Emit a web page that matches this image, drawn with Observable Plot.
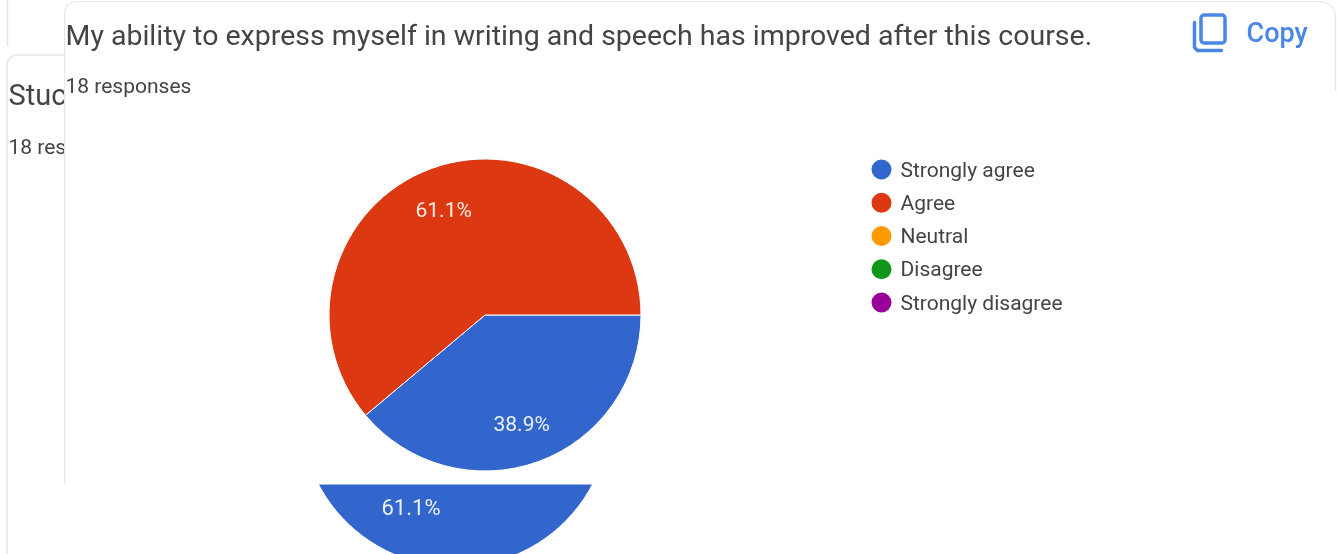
<!DOCTYPE html>
<html><head><meta charset="utf-8">
<script src="https://cdn.jsdelivr.net/npm/d3@7"></script>
<script src="https://cdn.jsdelivr.net/npm/@observablehq/plot@0.6"></script>
<style>html,body{margin:0;padding:0;background:#fff;overflow:hidden}svg{display:block;filter:blur(.75px)}</style>
</head><body><div id="c"></div>
<script>
const categories = ["Strongly agree","Agree","Neutral","Disagree","Strongly disagree"];
const palette = ["#3366cc","#dc3912","#ff9900","#109618","#990099"];
const frontCounts = [7,11,0,0,0];
const frontLabels = ["38.9%","61.1%"];
const backCategories = ["Strongly agree","Agree"];
const backCounts = [11,7];
const backLabel = "61.1%";
const title = "My ability to express myself in writing and speech has improved after this course.";
const responses = "18 responses";
const font = "Roboto, sans-serif", ink = "#444", edge = "#e6e6e6";
const rad = d => d * Math.PI / 180;

function pie(cats, counts, cx, cy, r, startDeg) {
  return (index, {x, y, color}) => {
    const arcs = d3.pie().sort(null).startAngle(rad(startDeg)).endAngle(rad(startDeg + 360))(counts);
    const arc = d3.arc().innerRadius(0).outerRadius(x(r) - x(0));
    const g = d3.create("svg:g").attr("transform", `translate(${x(cx)},${y(cy)})`);
    g.selectAll("path").data(arcs.filter(a => a.value > 0)).join("path")
      .attr("d", arc).attr("fill", (a) => color(cats[a.index])).attr("stroke", "#fff").attr("stroke-width", 1);
    return g.node();
  };
}
const t = (s, px, py, size, o = {}) => Plot.text([s], {x: () => px, y: () => py, text: d => d, fontSize: size, textAnchor: "start", fill: ink, fontFamily: font, ...o});
const box = (x1, y1, x2, y2, o) => Plot.rect([0], {x1: () => x1, x2: () => x2, y1: () => y1, y2: () => y2, ...o});
const seg = (pts, o) => Plot.line(pts, {x: "0", y: "1", curve: "linear", ...o});

const chart = Plot.plot({
  width: 1337, height: 554, margin: 0,
  x: {domain: [0, 1337], range: [0, 1337], axis: null},
  y: {domain: [0, 554], range: [0, 554], axis: null},
  color: {type: "ordinal", domain: categories, range: palette},
  style: {background: "#fff", fontFamily: font},
  marks: [
    // cards behind
    seg([[7, 0], [7, 45]], {stroke: edge, strokeWidth: 1.5}),
    box(7, 55, 400, 600, {fill: "#fff", stroke: edge, strokeWidth: 1.5, rx: 10}),
    t("Stuc", 8, 95, 29),
    t("18 res", 8, 147, 21, {letterSpacing: "1.9px"}),
    pie(backCategories, backCounts, 455.5, 412, 155, 100),
    t(backLabel, 381, 507, 22, {fill: "#fff", opacity: .9, letterSpacing: "1.3px"}),
    // front card
    box(64, 0, 1335, 484.5, {fill: "#fff"}),
    seg([[64, 484], [64, 12], [66, 5], [74, 1], [1322, 1], [1331, 5], [1335, 14], [1335, 90]], {stroke: edge, strokeWidth: 1.2}),
    t(title, 65, 35, 28.5),
    t(responses, 65, 86, 21, {letterSpacing: "1.9px"}),
    // copy icon and label
    box(1201, 15, 1225, 43, {stroke: "#4a86e8", strokeWidth: 3.5, rx: 3, fill: "none"}),
    seg([[1194, 22], [1194, 47], [1197, 50], [1221, 50]], {stroke: "#4a86e8", strokeWidth: 3.5}),
    t("Copy", 1246, 33, 27, {fill: "#4a86e8", fontWeight: 500}),
    // pie and labels
    pie(categories, frontCounts, 485, 315, 156, 90),
    t(frontLabels[0], 493, 424, 21, {fill: "#fff", opacity: .9, letterSpacing: "1px"}),
    t(frontLabels[1], 415, 210, 21, {fill: "#fff", opacity: .9, letterSpacing: "1px"}),
    // legend
    Plot.dot(categories, {x: () => 881, y: (d, i) => 169 + i * 33.25, r: 10, fill: d => d}),
    Plot.text(categories, {x: () => 900, y: (d, i) => 169.5 + i * 33.25, text: d => d, fontSize: 21, textAnchor: "start", fill: ink, fontFamily: font})
  ]
});
document.getElementById("c").appendChild(chart);
</script></body></html>
